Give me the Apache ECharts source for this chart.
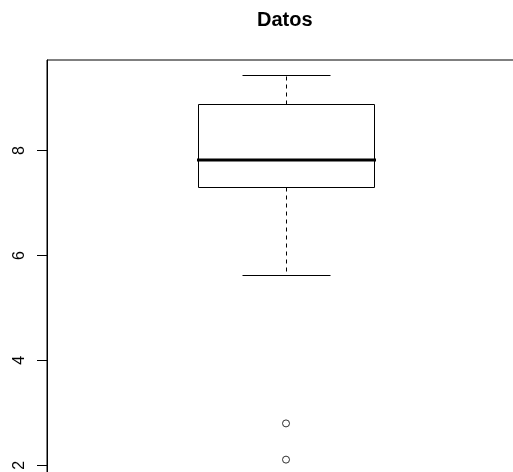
<!DOCTYPE html>
<html>
<head>
<meta charset="utf-8">
<script src="https://cdn.jsdelivr.net/npm/echarts@6/dist/echarts.min.js"></script>
<style>
  html, body { margin: 0; padding: 0; background: #fff; overflow: hidden; }
  #chart { width: 530px; height: 480px; }
</style>
</head>
<body>
<div id="chart"></div>
<script>
// Five-number summary: lower whisker, Q1, median, Q3, upper whisker
const boxStats = [5.62, 7.31, 7.81, 8.88, 9.43];
// Points beyond the whiskers
const outliers = [2.80, 2.11];
// Tick labels on the value axis
const yTicks = [2, 4, 6, 8];
const title = 'Datos';

// Axis range padded by 4% like R's default
const lo = Math.min(boxStats[0], ...outliers);
const hi = Math.max(boxStats[4], ...outliers);
const pad = 0.04 * (hi - lo);

// The plot frame runs past the right and bottom edges of the visible page
const chart = echarts.init(document.getElementById('chart'), null, { renderer: 'canvas' });
const font = '"Liberation Sans", Arial, sans-serif';
const px = v => Math.round(v) + 0.5;

chart.setOption({
  animation: false,
  backgroundColor: '#fff',
  title: {
    text: title,
    left: 257,
    top: 10,
    padding: 0,
    textStyle: { fontFamily: font, fontWeight: 'bold', fontSize: 20, color: '#000' }
  },
  grid: {
    left: 47, top: 60, right: 5, bottom: 5,
    show: true, borderColor: '#000', borderWidth: 1, backgroundColor: 'transparent'
  },
  xAxis: {
    type: 'value', min: 0.5, max: 1.5,
    show: false
  },
  yAxis: {
    type: 'value',
    min: lo - pad,
    max: hi + pad,
    splitLine: { show: false },
    axisLine: { show: true, lineStyle: { color: '#000', width: 1 } },
    axisTick: { show: true, length: 10, customValues: yTicks, lineStyle: { color: '#000', width: 1 } },
    axisLabel: {
      customValues: yTicks,
      rotate: 90,
      margin: 19,
      fontFamily: font,
      fontSize: 16,
      color: '#000'
    }
  },
  series: [
    {
      type: 'custom',
      data: [[1].concat(boxStats)],
      encode: { x: 0, y: [1, 2, 3, 4, 5] },
      renderItem: function (params, api) {
        const x = api.value(0);
        const cx = px(api.coord([x, api.value(3)])[0]);
        const yLow = px(api.coord([x, api.value(1)])[1]);
        const yQ1 = px(api.coord([x, api.value(2)])[1]);
        const yMed = Math.round(api.coord([x, api.value(3)])[1]);
        const yQ3 = px(api.coord([x, api.value(4)])[1]);
        const yHigh = px(api.coord([x, api.value(5)])[1]);
        const hw = 88;
        const cw = 44;
        const solid = { stroke: '#000', lineWidth: 1, fill: null };
        const dashed = { stroke: '#000', lineWidth: 1, lineDash: [4, 4], fill: null };
        return {
          type: 'group',
          children: [
            { type: 'line', shape: { x1: cx, y1: yQ3, x2: cx, y2: yHigh }, style: dashed },
            { type: 'line', shape: { x1: cx, y1: yQ1, x2: cx, y2: yLow }, style: dashed },
            { type: 'line', shape: { x1: cx - cw, y1: yHigh, x2: cx + cw, y2: yHigh }, style: solid },
            { type: 'line', shape: { x1: cx - cw, y1: yLow, x2: cx + cw, y2: yLow }, style: solid },
            { type: 'rect', shape: { x: cx - hw, y: yQ3, width: 2 * hw, height: yQ1 - yQ3 }, style: { stroke: '#000', lineWidth: 1, fill: '#fff' } },
            { type: 'line', shape: { x1: cx - hw - 1.5, y1: yMed, x2: cx + hw + 1.5, y2: yMed }, style: { stroke: '#000', lineWidth: 3 } }
          ]
        };
      }
    },
    {
      type: 'scatter',
      data: outliers.map(v => [1, v]),
      symbol: 'circle',
      symbolSize: 7,
      itemStyle: { color: '#fff', borderColor: '#000', borderWidth: 1 },
      emphasis: { disabled: true }
    }
  ]
});
</script>
</body>
</html>
